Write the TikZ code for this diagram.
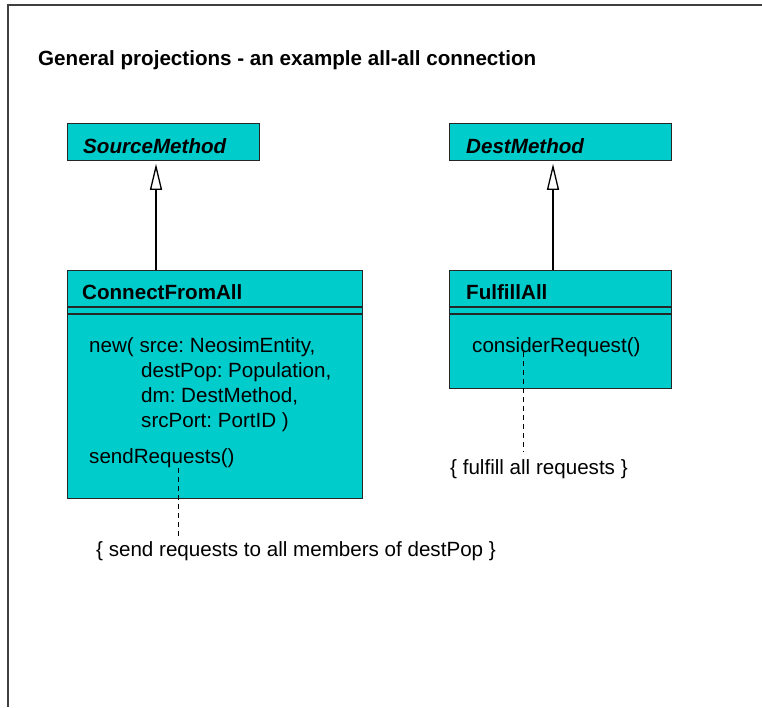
\documentclass[tikz,border=0pt]{standalone}
\usepackage{fontspec}
\setmainfont{Liberation Sans}
\usetikzlibrary{arrows.meta}
\definecolor{clsfill}{RGB}{0,204,204}
\definecolor{framegray}{RGB}{64,64,64}
\frenchspacing
\begin{document}
\begin{tikzpicture}[x=1pt,y=-1pt,
  clsbox/.style={draw=black!85, line width=1.3pt, fill=clsfill, anchor=north west, inner sep=0pt},
  txt/.style={anchor=base west, inner sep=0pt, font=\fontsize{20.6}{24}\selectfont},
  boldtxt/.style={txt, font=\fontsize{20.6}{24}\selectfont\bfseries},
  abstracttxt/.style={txt, font=\fontsize{20.6}{24}\selectfont\bfseries\itshape},
  gen/.style={line width=1.3pt, -{Triangle[open, fill=white, length=26pt, width=12pt, line width=1.3pt]}, shorten >=2.5pt},
  notelink/.style={line width=1pt, dash pattern=on 5pt off 4pt},
  sep/.style={line width=1.3pt, draw=black!85}
]
\useasboundingbox (0,0) rectangle (762,707);
\fill[white] (0,0) rectangle (762,707);
% page frame
\draw[framegray, line width=2pt] (7.5,707) -- (7.5,5) -- (762,5);

% title
\node[boldtxt] (title) at (38,65) {General projections - an example all-all connection};

% class boxes
\node[clsbox, minimum width=192pt, minimum height=37pt] (src) at (67,123) {};
\node[clsbox, minimum width=295pt, minimum height=228pt] (cfa) at (67,270) {};
\node[clsbox, minimum width=222pt, minimum height=37pt] (dst) at (449,123) {};
\node[clsbox, minimum width=222pt, minimum height=118pt] (ful) at (449,270) {};

% compartment separators
\foreach \b in {cfa,ful}{
  \draw[sep] ([yshift=-37pt]\b.north west) -- ([yshift=-37pt]\b.north east);
  \draw[sep] ([yshift=-44pt]\b.north west) -- ([yshift=-44pt]\b.north east);
}

% class names
\node[abstracttxt] (srcname) at (83,153) {SourceMethod};
\node[boldtxt] (cfaname) at (82,299) {ConnectFromAll};
\node[abstracttxt] (dstname) at (466,153) {DestMethod};
\node[boldtxt] (fulname) at (466,299) {FulfillAll};

% operations
\node[txt] (op1) at (89,352) {new( srce: NeosimEntity,};
\node[txt] (op2) at (141,377) {destPop: Population,};
\node[txt] (op3) at (141,402) {dm: DestMethod,};
\node[txt] (op4) at (141,427) {srcPort: PortID )};
\node[txt] (send) at (89,463) {sendRequests()};
\node[txt] (consider) at (472,352) {considerRequest()};

% notes
\node[txt] (note1) at (96,556) {\{ send requests to all members of destPop \}};
\node[txt] (note2) at (450,474) {\{ fulfill all requests \}};

% generalisations
\draw[gen] ([xshift=89pt]cfa.north west) -- ([xshift=89pt]src.south west);
\draw[gen] ([xshift=104pt]ful.north west) -- ([xshift=104pt]dst.south west);

% note links
\coordinate (n1a) at (178,468);
\coordinate (n1b) at (178,540);
\draw[notelink] (n1a) -- (n1b);
\coordinate (n2a) at (523,352);
\coordinate (n2b) at (523,452);
\draw[notelink] (n2a) -- (n2b);
\end{tikzpicture}
\end{document}
